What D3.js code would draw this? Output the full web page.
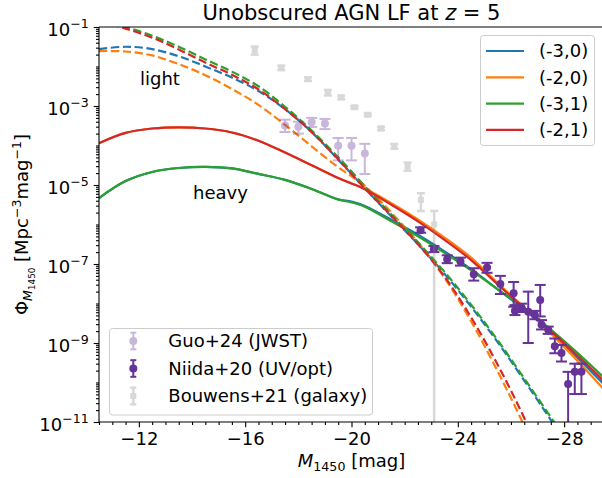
<!DOCTYPE html>
<html>
<head>
<meta charset="utf-8">
<script src="https://cdn.jsdelivr.net/npm/d3@7"></script>
<style>
  body { margin: 0; background: #fff; }
  svg { display: block; }
  text { font-family: "DejaVu Sans", sans-serif; fill: #000; }
</style>
</head>
<body>
<svg id="chart" width="602" height="478"></svg>
<script>
// ---------- data ----------
// absolute magnitude grid shared by all model curves
const magGrid = [-10.5, -11.5, -12.5, -13.5, -14.5, -15.5, -16.5, -17.5, -18.5, -19.5, -20, -20.5,
                 -21.5, -22.5, -23.5, -24.5, -25.5, -26.5, -27.5, -28.5, -29.5];

// model labels and colours
const modelLabels = ["(-3,0)", "(-2,0)", "(-3,1)", "(-2,1)"];
const modelColors = ["#1f77b4", "#ff7f0e", "#2ca02c", "#d62728"];

// log10 Phi, heavy seeds (solid)
const heavyM3s0 = [-5.33, -4.90, -4.67, -4.57, -4.54, -4.58, -4.72, -4.87, -5.10, -5.36, -5.42, -5.53,
                   -5.88, -6.26, -6.68, -7.13, -7.64, -8.16, -8.72, -9.37, -10.05];
const heavyM2s0 = [-3.94, -3.68, -3.57, -3.54, -3.57, -3.67, -3.88, -4.18, -4.50, -4.82, -4.96, -5.09,
                   -5.46, -5.87, -6.33, -6.84, -7.48, -8.10, -8.76, -9.45, -10.18];
const heavyM3s1 = [-5.33, -4.90, -4.67, -4.57, -4.54, -4.58, -4.72, -4.87, -5.10, -5.37, -5.44, -5.55,
                   -5.92, -6.30, -6.72, -7.16, -7.64, -8.12, -8.66, -9.25, -9.88];
const heavyM2s1 = [-3.94, -3.68, -3.57, -3.54, -3.57, -3.67, -3.88, -4.18, -4.50, -4.82, -4.96, -5.11,
                   -5.50, -5.92, -6.39, -6.90, -7.52, -8.12, -8.70, -9.32, -9.97];

// log10 Phi, light seeds (dashed)
const lightM3s0 = [-1.56, -1.50, -1.56, -1.74, -2.00, -2.28, -2.62, -3.08, -3.66, -4.36, -4.72, -5.08,
                   -5.80, -6.50, -7.25, -8.08, -8.98, -9.95, -10.95, -12.0, -13.1];
const lightM2s0 = [-1.61, -1.62, -1.72, -1.94, -2.22, -2.57, -2.97, -3.48, -4.02, -4.55, -4.78, -5.02,
                   -5.70, -6.45, -7.35, -8.45, -9.72, -11.1, -12.6, -14.2, -16.0];
const lightM3s1 = [-0.82, -1.00, -1.22, -1.50, -1.82, -2.13, -2.50, -3.02, -3.62, -4.30, -4.66, -5.03,
                   -5.75, -6.45, -7.20, -8.03, -8.93, -9.90, -10.88, -11.9, -13.0];
const lightM2s1 = [-0.85, -1.04, -1.27, -1.57, -1.90, -2.21, -2.58, -3.08, -3.66, -4.35, -4.72, -5.09,
                   -5.78, -6.50, -7.32, -8.35, -9.55, -10.9, -12.4, -14.0, -15.8];

// Guo+24 (JWST)
const guoMag = [-17.5, -18.0, -18.5, -19.0, -19.5, -20.0, -20.5];
const guoPhi = [3.2e-4, 3.0e-4, 3.9e-4, 3.6e-4, 9.8e-5, 9.8e-5, 6.3e-5];
const guoLo  = [2.2e-4, 2.0e-4, 2.95e-4, 2.6e-4, 4.2e-5, 4.2e-5, 1.9e-5];
const guoHi  = [4.5e-4, 4.0e-4, 5.0e-4, 4.7e-4, 1.55e-4, 1.55e-4, 1.1e-4];

// Niida+20 (UV/opt)
const niidaMag = [-22.6, -23.1, -23.6, -24.1, -24.6, -25.1, -25.6, -26.1, -26.15, -26.4,
                  -26.65, -26.9, -27.1, -27.15, -27.4, -27.65, -27.9, -28.15, -28.4, -28.65];
const niidaPhi = [7.2e-7, 2.4e-7, 1.32e-7, 1.15e-7, 5.5e-8, 8.1e-8, 3.1e-8, 1.82e-8, 6.6e-9, 7.8e-9,
                  6.2e-9, 5.1e-9, 1.23e-8, 2.9e-9, 2.15e-9, 8.3e-10, 5.6e-10, 9.1e-11, 1.86e-10, 1.86e-10];
const niidaLo  = [6.2e-7, 2.0e-7, 1.05e-7, 9.1e-8, 3.8e-8, 6.0e-8, 1.74e-8, 8.3e-9, 5.1e-9, 6.1e-9,
                  1.0e-9, 4.0e-9, 4.7e-9, 2.2e-9, 1.7e-9, 5.5e-10, 3.4e-10, 0, 5.1e-11, 5.1e-11];
const niidaHi  = [8.5e-7, 2.85e-7, 1.66e-7, 1.45e-7, 7.8e-8, 1.07e-7, 5.0e-8, 3.5e-8, 9.1e-9, 9.9e-9,
                  2.0e-8, 6.5e-9, 2.95e-8, 3.8e-9, 2.6e-9, 1.3e-9, 8.9e-10, 1.86e-10, 3.0e-10, 3.0e-10];

// Bouwens+21 (galaxy)
const bouwensMag = [-16.36, -17.36, -18.36, -19.11, -19.61, -20.11, -20.61, -21.11, -21.61, -22.11, -22.61, -23.11];
const bouwensPhi = [2.6e-2, 9.3e-3, 4.8e-3, 2.2e-3, 1.65e-3, 9.3e-4, 6.0e-4, 2.7e-4, 9.6e-5, 3.0e-5, 4.2e-6, 1.0e-6];
const bouwensErr = [6e-3, 1.2e-3, 5e-4, 3.5e-4, 1.6e-4, 7e-5, 4.5e-5, 2.5e-5, 1.3e-5, 7e-6, 2.0e-6, 1.2e-6];

// axis ticks
const xMajorTicks = [-12, -16, -20, -24, -28];
const yLabelExps = [-1, -3, -5, -7, -9, -11];

// ---------- layout ----------
const box = { left: 99, right: 604, top: 27, bottom: 422 };
const svg = d3.select("#chart");
svg.append("rect").attr("width", 602).attr("height", 478).attr("fill", "#fff");

const x = d3.scaleLinear().domain([-10.5, -29.5]).range([box.left, box.right]);
const y = d3.scaleLog().domain([1e-11, 1e-1]).range([box.bottom, box.top]);

svg.append("clipPath").attr("id", "plotclip")
  .append("rect")
  .attr("x", box.left).attr("y", box.top)
  .attr("width", box.right - box.left).attr("height", box.bottom - box.top);

const plot = svg.append("g").attr("clip-path", "url(#plotclip)");

// ---------- model curves ----------
const heavySets = [heavyM3s0, heavyM2s0, heavyM3s1, heavyM2s1];
const lightSets = [lightM3s0, lightM2s0, lightM3s1, lightM2s1];

const line = d3.line()
  .x((d, i) => x(magGrid[i]))
  .y(d => y(Math.pow(10, d)))
  .curve(d3.curveCatmullRom.alpha(0.5));

modelColors.forEach((c, k) => {
  plot.append("path").attr("d", line(heavySets[k]))
    .attr("fill", "none").attr("stroke", c).attr("stroke-width", 2.2);
  plot.append("path").attr("d", line(lightSets[k]))
    .attr("fill", "none").attr("stroke", c).attr("stroke-width", 2.2)
    .attr("stroke-dasharray", "8.3,3.6");
});

// ---------- error-bar data ----------
function errorbars(g, mags, phi, lo, hi, style) {
  mags.forEach((m, i) => {
    const cx = x(m);
    const yTop = y(hi[i]);
    const yBot = lo[i] > 0 ? y(lo[i]) : box.bottom + 20;
    const grp = g.append("g").attr("opacity", style.opacity);
    grp.append("line").attr("x1", cx).attr("x2", cx).attr("y1", yTop).attr("y2", yBot)
      .attr("stroke", style.color).attr("stroke-width", style.bar);
    grp.append("line").attr("x1", cx - style.cap).attr("x2", cx + style.cap)
      .attr("y1", yTop).attr("y2", yTop)
      .attr("stroke", style.color).attr("stroke-width", style.bar);
    if (lo[i] > 0) {
      grp.append("line").attr("x1", cx - style.cap).attr("x2", cx + style.cap)
        .attr("y1", yBot).attr("y2", yBot)
        .attr("stroke", style.color).attr("stroke-width", style.bar);
    }
    const cy = y(phi[i]);
    if (style.square) {
      grp.append("rect").attr("x", cx - style.size).attr("y", cy - style.size)
        .attr("width", 2 * style.size).attr("height", 2 * style.size)
        .attr("fill", style.color);
    } else {
      grp.append("circle").attr("cx", cx).attr("cy", cy).attr("r", style.size)
        .attr("fill", style.color);
    }
  });
}

const guoStyle = { color: "#663399", opacity: 0.35, bar: 2, cap: 5.5, size: 4 };
const niidaStyle = { color: "#663399", opacity: 1, bar: 2, cap: 5.5, size: 4 };
const bouwensStyle = { color: "#808080", opacity: 0.3, bar: 2.5, cap: 4, size: 3, square: true };

errorbars(plot, guoMag, guoPhi, guoLo, guoHi, guoStyle);
errorbars(plot, niidaMag, niidaPhi, niidaLo, niidaHi, niidaStyle);
errorbars(plot, bouwensMag, bouwensPhi,
  bouwensPhi.map((p, i) => p - bouwensErr[i]),
  bouwensPhi.map((p, i) => p + bouwensErr[i]), bouwensStyle);

// ---------- curve annotations ----------
svg.append("text").attr("x", 140).attr("y", 84.5).attr("font-size", 18).text("light");
svg.append("text").attr("x", 193).attr("y", 199).attr("font-size", 18).text("heavy");

// ---------- axes ----------
const axisColor = "#000";
const xMinor = d3.range(-10.5, -29.51, -0.5).filter(v => !xMajorTicks.includes(v));

const gx = svg.append("g").attr("transform", `translate(0,${box.bottom})`);
gx.call(d3.axisBottom(x).tickValues(xMinor).tickSize(3).tickFormat(""));
gx.call(g => g.select(".domain").remove());
const gxMaj = svg.append("g").attr("transform", `translate(0,${box.bottom})`);
gxMaj.call(d3.axisBottom(x).tickValues(xMajorTicks).tickSize(5.3).tickPadding(4.5)
  .tickFormat(d3.format("d")));
gxMaj.call(g => g.select(".domain").remove());
gxMaj.selectAll("text").attr("font-size", 18).attr("font-family", "DejaVu Sans");
svg.selectAll(".tick line").attr("stroke", axisColor).attr("stroke-width", 1.1);

// y minor ticks: 2..9 in every decade plus the unlabeled decades
const yMinor = [];
for (let e = -11; e < -1; e++) {
  for (let s = 1; s <= 9; s++) {
    const v = s * Math.pow(10, e);
    if (s === 1 && yLabelExps.includes(e)) continue;
    yMinor.push(v);
  }
}
const gy = svg.append("g").attr("transform", `translate(${box.left},0)`);
gy.call(d3.axisLeft(y).tickValues(yMinor).tickSize(3).tickFormat(""));
gy.call(g => g.select(".domain").remove());
const gyMaj = svg.append("g").attr("transform", `translate(${box.left},0)`);
gyMaj.call(d3.axisLeft(y).tickValues(yLabelExps.map(e => Math.pow(10, e))).tickSize(5.3).tickFormat(""));
gyMaj.call(g => g.select(".domain").remove());
svg.selectAll(".tick line").attr("stroke", axisColor).attr("stroke-width", 1.1);

// y tick labels as 10 with a superscript exponent
gyMaj.selectAll(".tick").each(function (d) {
  const e = Math.round(Math.log10(d));
  const t = d3.select(this).append("text")
    .attr("x", -10.2).attr("y", 8).attr("text-anchor", "end")
    .attr("font-size", 18).attr("fill", "#000");
  t.append("tspan").text("10");
  t.append("tspan").attr("font-size", 12.6).attr("dy", -7.5).text("\u2212" + Math.abs(e));
});

// spines
svg.append("line").attr("x1", box.left).attr("x2", box.left).attr("y1", box.top).attr("y2", box.bottom)
  .attr("stroke", axisColor).attr("stroke-width", 1.1);
svg.append("line").attr("x1", box.left).attr("x2", box.right).attr("y1", box.bottom).attr("y2", box.bottom)
  .attr("stroke", axisColor).attr("stroke-width", 1.1);
svg.append("line").attr("x1", box.left).attr("x2", box.right).attr("y1", box.top).attr("y2", box.top)
  .attr("stroke", axisColor).attr("stroke-width", 1.1);
svg.append("line").attr("x1", box.right).attr("x2", box.right).attr("y1", box.top).attr("y2", box.bottom)
  .attr("stroke", axisColor).attr("stroke-width", 1.1);

// ---------- axis labels and title ----------
const cxAxes = (box.left + box.right) / 2;
const xl = svg.append("text").attr("x", cxAxes).attr("y", 467).attr("text-anchor", "middle").attr("font-size", 18);
xl.append("tspan").attr("font-style", "italic").text("M");
xl.append("tspan").attr("font-size", 12.6).attr("dy", 4).text("1450");
xl.append("tspan").attr("dy", -4).text(" [mag]");

const yl = svg.append("text")
  .attr("transform", `translate(28,${(box.top + box.bottom) / 2}) rotate(-90)`)
  .attr("text-anchor", "middle").attr("font-size", 18);
yl.append("tspan").text("\u03A6");
yl.append("tspan").attr("font-size", 12.6).attr("font-style", "italic").attr("dy", 4).text("M");
yl.append("tspan").attr("font-size", 8.8).attr("dy", 2.5).text("1450");
yl.append("tspan").attr("dy", -6.5).text(" [Mpc");
yl.append("tspan").attr("font-size", 12.6).attr("dy", -7).text("\u22123");
yl.append("tspan").attr("dy", 7).text("mag");
yl.append("tspan").attr("font-size", 12.6).attr("dy", -7).text("\u22121");
yl.append("tspan").attr("dy", 7).text("]");

const title = svg.append("text").attr("x", cxAxes).attr("y", 20).attr("text-anchor", "middle").attr("font-size", 21);
title.append("tspan").text("Unobscured AGN LF at ");
title.append("tspan").attr("font-style", "italic").text("z");
title.append("tspan").text(" = 5");

// ---------- legends ----------
const leg1 = svg.append("g");
leg1.append("rect").attr("x", 480.5).attr("y", 35.5).attr("width", 114).attr("height", 110).attr("rx", 3)
  .attr("fill", "#fff").attr("fill-opacity", 0.8).attr("stroke", "#cccccc").attr("stroke-width", 1);
modelLabels.forEach((lab, k) => {
  const ry = 51 + k * 26.3;
  leg1.append("line").attr("x1", 486).attr("x2", 524).attr("y1", ry).attr("y2", ry)
    .attr("stroke", modelColors[k]).attr("stroke-width", 2.2);
  leg1.append("text").attr("x", 539).attr("y", ry).attr("dy", "0.36em").attr("font-size", 18).text(lab);
});

const leg2 = svg.append("g");
leg2.append("rect").attr("x", 109.5).attr("y", 328.5).attr("width", 263).attr("height", 86.5).attr("rx", 3)
  .attr("fill", "#fff").attr("fill-opacity", 0.8).attr("stroke", "#cccccc").attr("stroke-width", 1);
const dataLabels = ["Guo+24 (JWST)", "Niida+20 (UV/opt)", "Bouwens+21 (galaxy)"];
const dataStyles = [guoStyle, niidaStyle, bouwensStyle];
dataLabels.forEach((lab, k) => {
  const ry = 341 + k * 27.5;
  const st = dataStyles[k];
  const g = leg2.append("g").attr("opacity", st.opacity);
  g.append("line").attr("x1", 133.3).attr("x2", 133.3).attr("y1", ry - 8.3).attr("y2", ry + 8.3)
    .attr("stroke", st.color).attr("stroke-width", st.bar);
  [ry - 8.3, ry + 8.3].forEach(cy => g.append("line").attr("x1", 130.3).attr("x2", 136.3)
    .attr("y1", cy).attr("y2", cy).attr("stroke", st.color).attr("stroke-width", st.bar));
  if (st.square) {
    g.append("rect").attr("x", 133.3 - st.size).attr("y", ry - st.size)
      .attr("width", 2 * st.size).attr("height", 2 * st.size).attr("fill", st.color);
  } else {
    g.append("circle").attr("cx", 133.3).attr("cy", ry).attr("r", st.size).attr("fill", st.color);
  }
  leg2.append("text").attr("x", 168.3).attr("y", ry).attr("dy", "0.36em").attr("font-size", 18).text(lab);
});
</script>
</body>
</html>
